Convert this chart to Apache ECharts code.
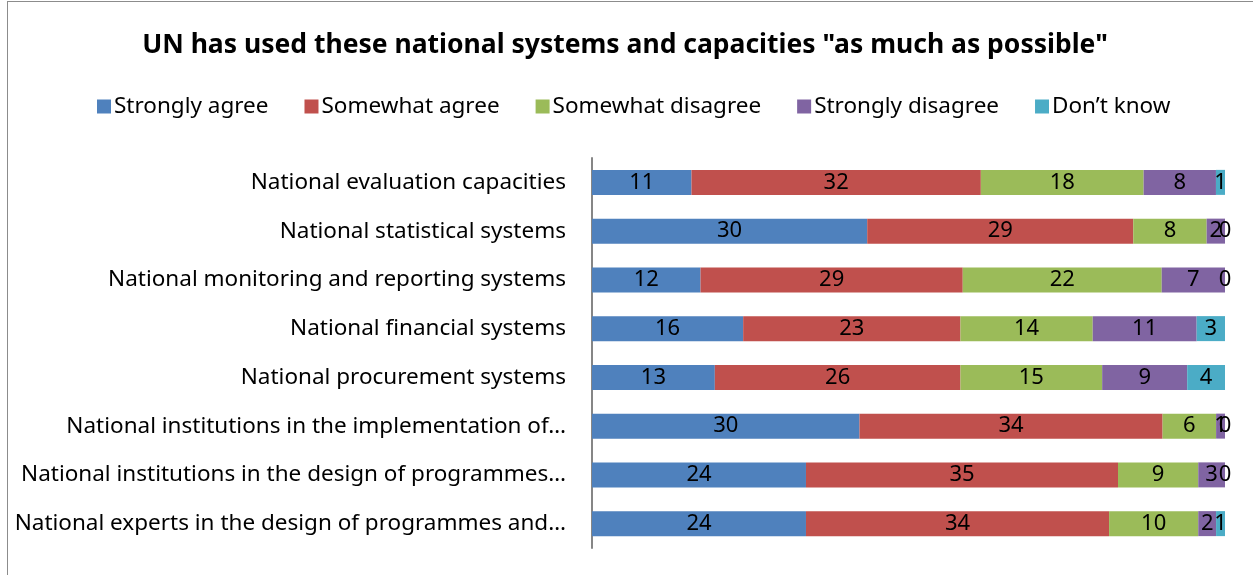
<!DOCTYPE html>
<html>
<head>
<meta charset="utf-8">
<script src="https://cdn.jsdelivr.net/npm/echarts@6/dist/echarts.min.js"></script>
<style>
html,body{margin:0;padding:0;background:#fff;}
#frame{position:absolute;left:7px;top:1px;width:1260px;height:590px;border:1px solid #8c8c8c;box-sizing:border-box;}
#chart{position:absolute;left:0;top:0;width:1253px;height:575px;}
</style>
</head>
<body>
<div id="frame"></div>
<div id="chart"></div>
<script>
const categories = [
  "National evaluation capacities",
  "National statistical systems",
  "National monitoring and reporting systems",
  "National financial systems",
  "National procurement systems",
  "National institutions in the implementation of…",
  "National institutions in the design of programmes…",
  "National experts in the design of programmes and…"
];
const seriesNames = ["Strongly agree", "Somewhat agree", "Somewhat disagree", "Strongly disagree", "Don\u2019t know"];
const stronglyAgree    = [11, 30, 12, 16, 13, 30, 24, 24];
const somewhatAgree    = [32, 29, 29, 23, 26, 34, 35, 34];
const somewhatDisagree = [18,  8, 22, 14, 15,  6,  9, 10];
const stronglyDisagree = [ 8,  2,  7, 11,  9,  1,  3,  2];
const dontKnow         = [ 1,  0,  0,  3,  4,  0,  0,  1];
const colors = ["#4F81BD", "#C0504D", "#9BBB59", "#8064A2", "#4BACC6"];

const counts = [stronglyAgree, somewhatAgree, somewhatDisagree, stronglyDisagree, dontKnow];
const totals = categories.map((_, i) => counts.reduce((s, arr) => s + arr[i], 0));

const FONT = "Noto Sans";
const chart = echarts.init(document.getElementById('chart'));
chart.setOption({
  animation: false,
  color: colors,
  title: {
    text: 'UN has used these national systems and capacities "as much as possible"',
    left: 620, textAlign: 'center', top: 27,
    textStyle: {fontFamily: FONT, fontSize: 26.5, fontWeight: 'bold', color: '#000'}
  },
  legend: {
    top: 90, left: 92,
    itemWidth: 14, itemHeight: 14, itemGap: 36,
    icon: 'rect',
    textStyle: {fontFamily: FONT, fontSize: 22.5, color: '#000', padding: [0,0,0,-2]},
    data: seriesNames
  },
  grid: {left: 592, right: 28, top: 158, bottom: 27, containLabel: false},
  xAxis: {
    type: 'value', min: 0, max: 100,
    axisLine: {show: false}, axisTick: {show: false}, axisLabel: {show: false}, splitLine: {show: false}
  },
  yAxis: {
    type: 'category', inverse: true, data: categories,
    axisLine: {show: true, lineStyle: {color: '#868686', width: 2}},
    axisTick: {show: false},
    axisLabel: {margin: 26, fontFamily: FONT, fontSize: 22.5, color: '#000'}
  },
  series: counts.map((arr, si) => ({
    name: seriesNames[si],
    type: 'bar',
    stack: 'total',
    barWidth: 25,
    itemStyle: {color: colors[si]},
    label: {
      show: true, position: 'inside', color: '#000',
      fontFamily: FONT, fontSize: 22,
      formatter: p => String(arr[p.dataIndex])
    },
    data: arr.map((v, i) => v / totals[i] * 100)
  }))
});
</script>
</body>
</html>
